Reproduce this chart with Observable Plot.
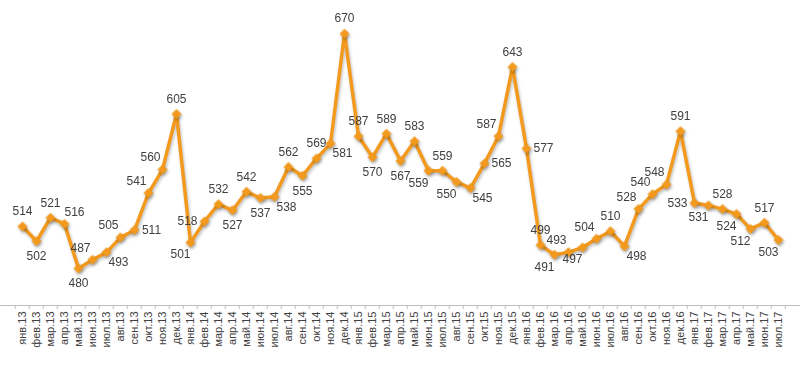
<!DOCTYPE html>
<html>
<head>
<meta charset="utf-8">
<script src="https://cdn.jsdelivr.net/npm/d3@7"></script>
<script src="https://cdn.jsdelivr.net/npm/@observablehq/plot@0.6"></script>
<style>
  html, body { margin: 0; padding: 0; background: #fff; }
  #chart svg { display: block; }
  #chart g[aria-label="line"] { filter: drop-shadow(1px 2px 1.5px rgba(0,0,0,0.25)); }
  #chart g[aria-label="dot"] { filter: drop-shadow(1px 2px 1.5px rgba(0,0,0,0.3)); }
</style>
</head>
<body>
<div id="chart"></div>
<script>
const months = [
  "янв.13","фев.13","мар.13","апр.13","май.13","июн.13","июл.13","авг.13","сен.13","окт.13","ноя.13","дек.13",
  "янв.14","фев.14","мар.14","апр.14","май.14","июн.14","июл.14","авг.14","сен.14","окт.14","ноя.14","дек.14",
  "янв.15","фев.15","мар.15","апр.15","май.15","июн.15","июл.15","авг.15","сен.15","окт.15","ноя.15","дек.15",
  "янв.16","фев.16","мар.16","апр.16","май.16","июн.16","июл.16","авг.16","сен.16","окт.16","ноя.16","дек.16",
  "янв.17","фев.17","мар.17","апр.17","май.17","июн.17","июл.17"
];
const values = [
  514, 502, 521, 516, 480, 487, 493, 505, 511, 541, 560, 605,
  501, 518, 532, 527, 542, 537, 538, 562, 555, 569, 581, 670,
  587, 570, 589, 567, 583, 559, 559, 550, 545, 565, 587, 643,
  577, 499, 491, 493, 497, 504, 510, 498, 528, 540, 548, 591,
  533, 531, 528, 524, 512, 517, 503
];
// side of the point where each data label sits (t=top, b=bottom, l=left, r=right)
const labelSide = [
  "t","b","t","tr","b","tl","br","tl","r","tl","tl","t",
  "bl","l","t","b","t","b","br","t","b","t","br","t",
  "t","b","t","b","t","bl","t","bl","br","r","tl","t",
  "r","t","bl","tl","bl","tl","t","br","tl","tl","tl","t",
  "l","bl","t","bl","bl","t","bl"
];

const data = months.map((m, i) => ({month: m, value: values[i], side: labelSide[i]}));

const W = 800, H = 366;
const yMin = 450, yMax = 696;
const marginTop = 1, marginBottom = 61;
const pxPerUnit = (H - marginTop - marginBottom) / (yMax - yMin);
const step = W / months.length;
const color = "#F39A1E";
const labelColor = "#404040";
const offsets = {
  t: [0, -15], b: [0, 15], l: [-17, 0], r: [17, 0],
  tl: [-12, -12], tr: [10, -12], bl: [-10, 12], br: [12, 10]
};

const labelMarks = Object.entries(offsets).map(([side, [dx, dy]]) =>
  Plot.text(data.filter(d => d.side === side), {
    x: "month", y: "value", text: d => String(d.value),
    dx, dy, fill: labelColor, fontSize: 12
  })
);

const chart = Plot.plot({
  width: W,
  height: H,
  marginLeft: 0,
  marginRight: 0,
  marginTop,
  marginBottom,
  style: {fontFamily: "Arial, 'Liberation Sans', sans-serif", fontSize: "11px", color: "#404040", background: "#fff"},
  x: {type: "band", domain: months, padding: 0, tickSize: 0, tickRotate: -90, tickPadding: 6, label: null},
  y: {domain: [yMin, yMax], axis: null},
  marks: [
    Plot.ruleY([yMin], {stroke: "#bfbfbf", strokeWidth: 1}),
    Plot.ruleX(months, {x: d => d, y1: yMin, y2: yMin - 4 / pxPerUnit, dx: -step / 2, stroke: "#bfbfbf"}),
    Plot.ruleX([months[months.length - 1]], {x: d => d, y1: yMin, y2: yMin - 4 / pxPerUnit, dx: step / 2 - 0.5, stroke: "#bfbfbf"}),
    Plot.line(data, {x: "month", y: "value", stroke: color, strokeWidth: 3.5, strokeLinejoin: "round"}),
    Plot.dot(data, {x: "month", y: "value", symbol: "diamond2", r: 4.5, fill: color, stroke: "none"}),
    ...labelMarks
  ]
});
document.getElementById("chart").appendChild(chart);
</script>
</body>
</html>
